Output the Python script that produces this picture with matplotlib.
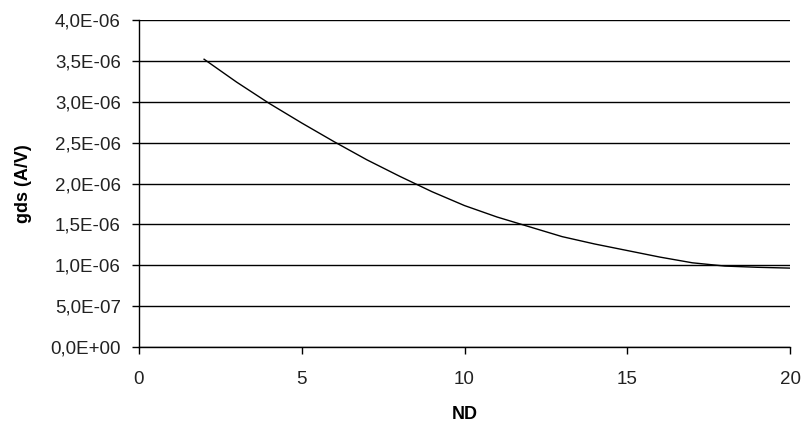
import matplotlib
matplotlib.use("Agg")
import matplotlib.pyplot as plt
from matplotlib.ticker import FuncFormatter

plt.rcParams['font.family'] = ['Liberation Sans', 'DejaVu Sans']

# ND values and gds (A/V)
nd = [2, 3, 4, 5, 6, 7, 8, 9, 10, 11, 12, 13, 14, 15, 16, 17, 18, 19, 20]
gds = [3.52e-6, 3.24e-6, 2.98e-6, 2.74e-6, 2.51e-6, 2.29e-6, 2.09e-6, 1.90e-6,
       1.73e-6, 1.59e-6, 1.47e-6, 1.35e-6, 1.26e-6, 1.18e-6, 1.10e-6, 1.03e-6,
       0.99e-6, 0.975e-6, 0.965e-6]

y_ticks = [i * 0.5e-6 for i in range(9)]
x_ticks = [0, 5, 10, 15, 20]


def sci_comma(v, pos):
    s = f"{v:.1E}"
    mant, exp = s.split("E")
    e = int(exp)
    return f"{mant.replace('.', ',')}E{'+' if e >= 0 else '-'}{abs(e):02d}"


fig = plt.figure(figsize=(8.01, 4.29), dpi=100)
ax = fig.add_axes([139 / 801, 1 - 347 / 429, (790 - 139) / 801, (347 - 20) / 429])

ax.plot(nd, gds, color='black', linewidth=1)

ax.set_xlim(0, 20)
ax.set_ylim(0, 4e-6)
ax.set_xticks(x_ticks)
ax.set_yticks(y_ticks)
ax.yaxis.set_major_formatter(FuncFormatter(sci_comma))
ax.grid(axis='y', color='black', linewidth=1)
ax.set_axisbelow(True)

for side in ['top', 'right']:
    ax.spines[side].set_visible(False)
for side in ['left', 'bottom']:
    ax.spines[side].set_linewidth(1)
    ax.spines[side].set_color('black')

ax.tick_params(axis='both', direction='out', length=5, width=1, colors='black',
               labelsize=13.5, labelcolor='#222222')
ax.tick_params(axis='x', pad=12)
ax.tick_params(axis='y', pad=8)

ax.set_xlabel('ND', fontsize=13, fontweight='bold', labelpad=13)
ax.set_ylabel('gds (A/V)', fontsize=13, fontweight='bold', labelpad=13)

fig.savefig('out.png', dpi=100)
